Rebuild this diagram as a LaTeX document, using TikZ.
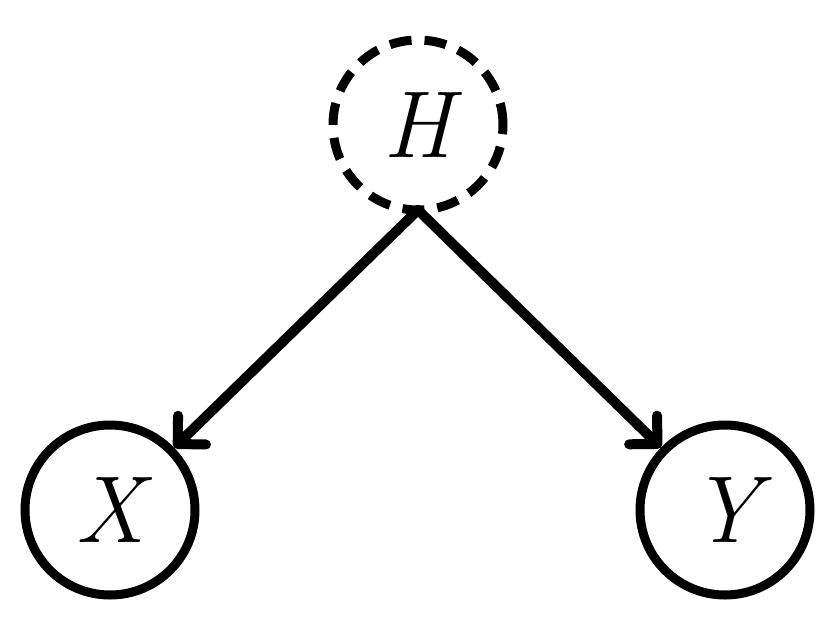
\documentclass[tikz,border=0pt]{standalone}
\usepackage{fontspec}
\usetikzlibrary{arrows.meta}
\begin{document}
\begin{tikzpicture}[x=1pt,y=-1pt,
  var/.style={circle,draw,line width=9pt,minimum size=170pt,inner sep=0pt,font=\fontsize{95}{95}\selectfont\itshape},
  edge/.style={line width=10pt,line cap=round,-{Straight Barb[length=20pt,width=40pt,line width=10pt,round]}}]
\useasboundingbox (0,0) rectangle (828,621);
\node[var,dash pattern=on 22pt off 13pt] (h) at (418,125) {H};
\node[var] (x) at (110,510) {X};
\node[var] (y) at (725,510) {Y};
\coordinate (hs) at (418,210);
\draw[edge] (hs) -- (x);
\draw[edge] (hs) -- (y);
\end{tikzpicture}
\end{document}
